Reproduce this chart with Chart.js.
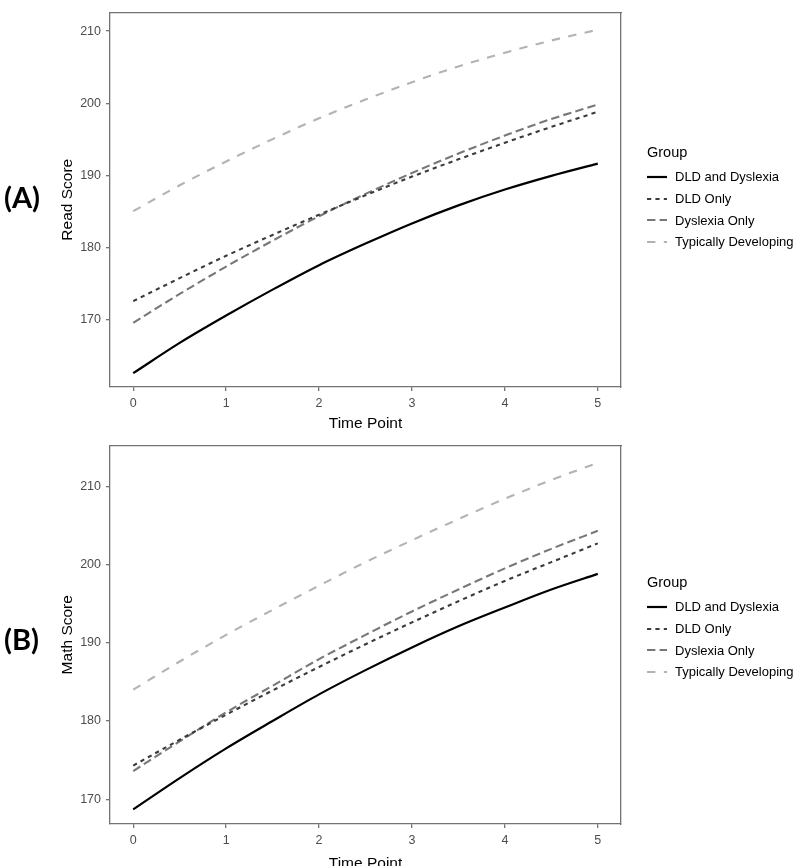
<!DOCTYPE html>
<html>
<head>
<meta charset="utf-8">
<script src="https://cdn.jsdelivr.net/npm/chart.js@4.4.1/dist/chart.umd.min.js"></script>
<style>
html,body{margin:0;padding:0;background:#fff;}
body{width:800px;height:866px;position:relative;overflow:hidden;}
.panel{position:absolute;left:0;width:800px;}
.tag{position:absolute;left:4px;font-family:Lato,'Noto Sans','Liberation Sans',sans-serif;font-weight:700;font-size:29px;line-height:40px;color:#000;}
.legend{position:absolute;left:647px;font-family:'Liberation Sans',Arial,sans-serif;color:#000;}
.legend .lt{font-size:14.5px;line-height:18px;height:18px;margin-bottom:5px;}
.legend .li{height:21.7px;font-size:13px;display:flex;align-items:center;}
.legend svg{margin-right:8px;display:block;}
</style>
</head>
<body>
<div class="panel" style="top:0;height:433px"><canvas id="cA" width="800" height="433"></canvas></div>
<div class="panel" style="top:433px;height:440px"><canvas id="cB" width="800" height="440"></canvas></div>
<div class="tag" style="top:177px">(A)</div>
<div class="tag" style="top:619px">(B)</div>
<div class="legend" id="legA" style="top:143px"></div>
<div class="legend" id="legB" style="top:573px"></div>
<script>
// ---- data ----
const timePoints = [0, 0.5, 1, 1.5, 2, 2.5, 3, 3.5, 4, 4.5, 5];
const xTickValues = [0, 1, 2, 3, 4, 5];
const yTickValues = [170, 180, 190, 200, 210];
const groups = ['DLD and Dyslexia', 'DLD Only', 'Dyslexia Only', 'Typically Developing'];

// (A) Read Score
const readDLDandDyslexia = [162.5, 166.7, 170.5, 174.1, 177.5, 180.5, 183.3, 185.8, 188.0, 189.9, 191.6];
const readDLDOnly        = [172.5, 175.7, 178.8, 181.7, 184.5, 187.2, 189.8, 192.2, 194.5, 196.7, 198.8];
const readDyslexiaOnly   = [169.5, 173.5, 177.3, 180.9, 184.3, 187.4, 190.3, 193.0, 195.5, 197.8, 199.8];
const readTypical        = [185.0, 188.6, 191.9, 195.0, 197.9, 200.5, 202.9, 205.1, 207.0, 208.7, 210.2];

// (B) Math Score
const mathDLDandDyslexia = [168.7, 172.7, 176.5, 180.0, 183.4, 186.5, 189.4, 192.1, 194.5, 196.8, 198.8];
const mathDLDOnly        = [174.3, 177.6, 180.8, 183.9, 186.9, 189.8, 192.6, 195.3, 197.9, 200.3, 202.7];
const mathDyslexiaOnly   = [173.6, 177.4, 181.1, 184.5, 187.9, 191.0, 194.0, 196.8, 199.5, 202.0, 204.3];
const mathTypical        = [184.0, 187.6, 191.0, 194.2, 197.3, 200.3, 203.1, 205.8, 208.4, 210.8, 213.0];

// ---- styles ----
const seriesColors = ['#000000', '#3b3b3b', '#787878', '#b3b3b3'];
const seriesDash = [[], [4.2, 4.2], [8.4, 4.2], [8.4, 8.4]];
const seriesWidth = [2.2, 2.1, 2.1, 2.1];
const axisColor = '#737373';
const FONT = "'Liberation Sans', Arial, sans-serif";
Chart.defaults.font.family = FONT;

function buildLegend(el) {
  let h = '<div class="lt">Group</div>';
  groups.forEach((g, i) => {
    const dash = seriesDash[i].length ? seriesDash[i].join(' ') : 'none';
    h += '<div class="li"><svg width="20" height="10"><line x1="0" y1="5" x2="20" y2="5" stroke="' + seriesColors[i] +
      '" stroke-width="' + seriesWidth[i] + '" stroke-dasharray="' + dash + '"/></svg><span>' + g + '</span></div>';
  });
  el.innerHTML = h;
}

function makeChart(id, yTitle, seriesList, yMin, yMax, padTop, xAxisHeight) {
  const datasets = seriesList.map((arr, i) => ({
    label: groups[i],
    data: timePoints.map((t, k) => ({ x: t, y: arr[k] })),
    borderColor: seriesColors[i],
    backgroundColor: seriesColors[i],
    borderWidth: seriesWidth[i],
    borderDash: seriesDash[i],
    borderCapStyle: 'butt',
    pointRadius: 0,
    fill: false,
    cubicInterpolationMode: 'monotone'
  }));
  return new Chart(document.getElementById(id), {
    type: 'line',
    data: { datasets },
    options: {
      responsive: false,
      animation: false,
      devicePixelRatio: 1,
      events: [],
      layout: { padding: { top: padTop, left: 58.7, right: 179, bottom: 0 } },
      plugins: { legend: { display: false }, tooltip: { enabled: false } },
      scales: {
        x: {
          type: 'linear', position: 'bottom', min: -0.25, max: 5.25,
          afterBuildTicks: s => { s.ticks = xTickValues.map(v => ({ value: v })); },
          afterFit: s => { s.height = xAxisHeight; },
          grid: { drawOnChartArea: false, drawTicks: true, tickLength: 4, color: axisColor, lineWidth: 1.3 },
          border: { display: true, color: axisColor, width: 1.3 },
          ticks: { color: '#4d4d4d', font: { size: 12.5 }, padding: 5, maxRotation: 0, autoSkip: false },
          title: { display: true, text: 'Time Point', color: '#000', font: { size: 15.5 }, padding: 0 }
        },
        y: {
          type: 'linear', position: 'left', min: yMin, max: yMax,
          afterBuildTicks: s => { s.ticks = yTickValues.map(v => ({ value: v })); },
          afterFit: s => { s.width = 51.3; },
          grid: { drawOnChartArea: false, drawTicks: true, tickLength: 4, color: axisColor, lineWidth: 1.3 },
          border: { display: true, color: axisColor, width: 1.3 },
          ticks: { color: '#4d4d4d', font: { size: 12.5 }, padding: 5, autoSkip: false },
          title: { display: true, text: yTitle, color: '#000', font: { size: 15.5 }, padding: 0 }
        },
        xTop: {
          type: 'linear', position: 'top', min: -0.25, max: 5.25,
          afterFit: s => { s.height = 0; },
          grid: { drawOnChartArea: false, drawTicks: false, color: axisColor },
          border: { display: true, color: axisColor, width: 1.3 },
          ticks: { display: false }
        },
        yRight: {
          type: 'linear', position: 'right', min: yMin, max: yMax,
          afterFit: s => { s.width = 0; },
          grid: { drawOnChartArea: false, drawTicks: false, color: axisColor },
          border: { display: true, color: axisColor, width: 1.3 },
          ticks: { display: false }
        }
      }
    }
  });
}

makeChart('cA', 'Read Score', [readDLDandDyslexia, readDLDOnly, readDyslexiaOnly, readTypical], 160.58, 212.59, 6, 46);
makeChart('cB', 'Math Score', [mathDLDandDyslexia, mathDLDOnly, mathDyslexiaOnly, mathTypical], 166.83, 215.21, 10, 49);
buildLegend(document.getElementById('legA'));
buildLegend(document.getElementById('legB'));
</script>
</body>
</html>
